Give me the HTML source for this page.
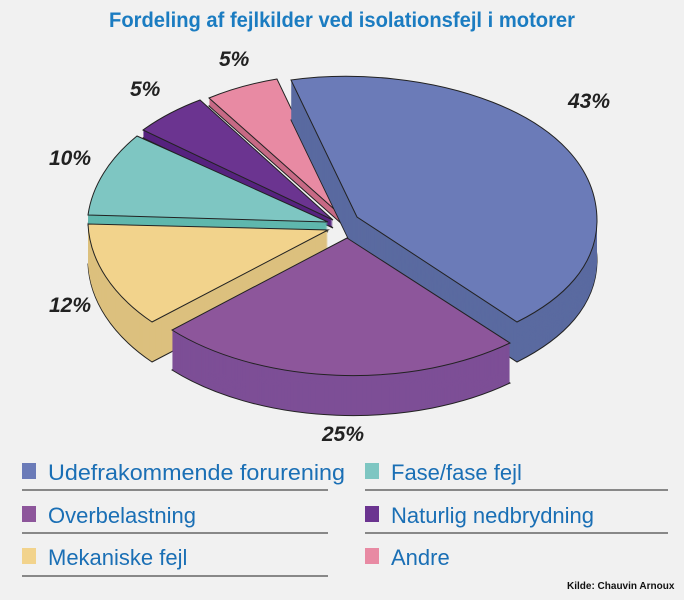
<!DOCTYPE html><html><head><style>
body{margin:0;background:#f1f1f1;}
svg{display:block}
</style></head><body>
<svg width="684" height="600" xmlns="http://www.w3.org/2000/svg" font-family="Liberation Sans, sans-serif">
<rect width="684" height="600" fill="#f1f1f1"/>
<text x="342" y="27" text-anchor="middle" font-size="21" font-weight="bold" fill="#1b7cc1" textLength="466" lengthAdjust="spacingAndGlyphs">Fordeling af fejlkilder ved isolationsfejl i motorer</text>
<defs>
<path id="pk" d="M343,217 L209,98 A235,150 0 0 1 277,79 Z"/>
<path id="dp" d="M333,220 L143,130 A235,150 0 0 1 200,100 Z"/>
<path id="te" d="M328,222 L88,215 A235,150 0 0 1 137,136 Z"/>
<path id="bl" d="M357,217 L291,80 C 420,62 598,110 597,222 C 596,265 565,298 517,322 Z"/>
<path id="ye" d="M328,230 L152,322 A240,150 0 0 1 88,224 Z"/>
<path id="pu" d="M347,238 L510,343 A245,140 0 0 1 172,330 Z"/>
</defs>
<g id="walls"></g>
<script>
var order=[["pk","#c76a85","#e88aa3",8],["dp","#56237f","#6b3490",8],["te","#5fb7ad","#7ec6c2",10],["bl","#5a6aa0","#6b7bb8",40],["ye","#dcc07e","#f2d38c",40],["pu","#7d4e96","#8d569b",40]];
var ns="http://www.w3.org/2000/svg",s=document.querySelector("svg");
order.forEach(function(o){
 for(var i=o[3];i>0;i--){var u=document.createElementNS(ns,"use");u.setAttribute("href","#"+o[0]);u.setAttribute("transform","translate(0,"+i+")");u.setAttribute("fill",o[1]);u.setAttribute("stroke",i==o[3]?"#222":"none");u.setAttribute("stroke-width","1");s.insertBefore(u,document.getElementById("labels"));}
 var t=document.createElementNS(ns,"use");t.setAttribute("href","#"+o[0]);t.setAttribute("fill",o[2]);t.setAttribute("stroke","#222");t.setAttribute("stroke-width","1");s.insertBefore(t,document.getElementById("labels"));
});
</script>
<g id="labels" font-size="21" font-weight="bold" font-style="italic" fill="#222">
<text x="568" y="108">43%</text>
<text x="322" y="441">25%</text>
<text x="49" y="312">12%</text>
<text x="49" y="165">10%</text>
<text x="130" y="96">5%</text>
<text x="219" y="66">5%</text>
</g>
<g font-size="22" fill="#1a6fb5">
<rect x="22" y="463" width="14" height="16" fill="#6b7bb8"/><text x="48" y="480" textLength="297" lengthAdjust="spacingAndGlyphs">Udefrakommende forurening</text>
<rect x="22" y="506" width="14" height="16" fill="#8d569b"/><text x="48" y="523">Overbelastning</text>
<rect x="22" y="548" width="14" height="16" fill="#f2d38c"/><text x="48" y="565">Mekaniske fejl</text>
<rect x="365" y="463" width="14" height="16" fill="#7ec6c2"/><text x="391" y="480">Fase/fase fejl</text>
<rect x="365" y="506" width="14" height="16" fill="#6b3490"/><text x="391" y="523">Naturlig nedbrydning</text>
<rect x="365" y="548" width="14" height="16" fill="#e88aa3"/><text x="391" y="565">Andre</text>
</g>
<g stroke="#888" stroke-width="2">
<line x1="22" y1="490" x2="328" y2="490"/><line x1="365" y1="490" x2="668" y2="490"/>
<line x1="22" y1="533" x2="328" y2="533"/><line x1="365" y1="533" x2="668" y2="533"/>
<line x1="22" y1="576" x2="328" y2="576"/>
</g>
<text x="567" y="589" font-size="10" font-weight="bold" fill="#111">Kilde: Chauvin Arnoux</text>
</svg>
</body></html>
